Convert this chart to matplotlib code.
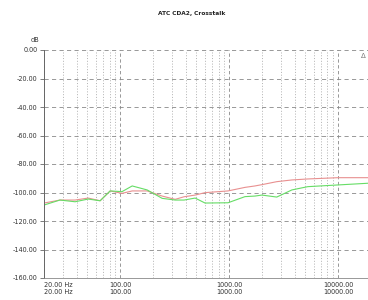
#!/usr/bin/env python3
"""Crosstalk plot of the ATC CDA2, redrawn with matplotlib."""

import matplotlib
matplotlib.use("Agg")
import matplotlib.pyplot as plt
from matplotlib.ticker import FixedLocator, NullFormatter
import numpy as np


TITLE = "ATC CDA2, Crosstalk"

# frequencies (Hz)
freq = [20, 28, 38.6, 50.9, 65.5, 81, 104, 129, 177, 243, 320, 386,
        488, 602, 978, 1400, 1730, 2000, 2740, 3770, 5280, 10000, 18900]

# crosstalk in dB, two channels
red_db = [-107.4, -105.3, -105.3, -103.9, -105.8, -98.9, -100.6, -98.9,
          -98.9, -102.5, -104.8, -103.0, -101.8, -100.1, -98.9, -96.4,
          -95.4, -94.5, -92.4, -91.2, -90.5, -89.6, -89.6]
green_db = [-108.8, -105.3, -106.5, -104.6, -105.8, -98.9, -99.4, -95.4,
            -98.2, -104.1, -105.3, -105.3, -103.9, -107.4, -107.2, -102.9,
            -102.5, -101.8, -103.2, -98.2, -95.9, -94.7, -93.5]

y_ticks = [0, -20, -40, -60, -80, -100, -120, -140, -160]
x_ticks = [20, 100, 1000, 10000]
x_labels = ["20.00 Hz\n20.00 Hz", "100.00\n100.00",
            "1000.00\n1000.00", "10000.00\n10000.00"]


def main() -> None:
    fig = plt.figure(figsize=(3.68, 3.00), dpi=100)
    ax = fig.add_axes([44 / 368, 22 / 300, (370.8 - 44) / 368, 228 / 300])

    ax.plot(freq, red_db, color="#e89090", linewidth=0.8)
    ax.plot(freq, green_db, color="#66dd66", linewidth=0.8)

    ax.set_xscale("log")
    ax.set_xlim(20, 20000)
    ax.set_ylim(-160, 0)

    minor = [m * 10 ** e for e in range(1, 5) for m in range(2, 10)]
    minor = [v for v in minor if 20 < v < 20000 and v not in x_ticks]
    ax.xaxis.set_major_locator(FixedLocator(x_ticks))
    ax.xaxis.set_minor_locator(FixedLocator(minor))
    ax.xaxis.set_minor_formatter(NullFormatter())
    ax.set_xticklabels(x_labels, fontsize=4.7, color="#333333", linespacing=1.15)
    ax.get_xticklabels()[0].set_horizontalalignment("left")
    ax.tick_params(axis="x", which="both", length=0, pad=3)

    ax.set_yticks(y_ticks)
    ax.set_yticklabels([f"{v:.2f}" for v in y_ticks], fontsize=4.7, color="#333333")
    ax.tick_params(axis="y", length=3, width=0.6, color="#666666", pad=1.5)

    ax.grid(True, axis="y", color="#888888", linestyle=(0, (5, 4)), linewidth=0.6)
    ax.grid(True, axis="x", which="major", color="#888888",
            linestyle=(0, (4, 3)), linewidth=0.6)
    ax.grid(True, axis="x", which="minor", color="#999999",
            linestyle=(0, (1.5, 2.5)), linewidth=0.5)
    ax.set_axisbelow(True)

    for side in ["top", "right"]:
        ax.spines[side].set_visible(False)
    ax.spines["left"].set_color("#666666")
    ax.spines["left"].set_linewidth(0.7)
    ax.spines["bottom"].set_color("#888888")
    ax.spines["bottom"].set_linewidth(0.6)

    fig.text(192 / 368, 1 - 13 / 300, TITLE, ha="center", va="center",
             fontsize=4.2, fontweight="bold", color="#222222")
    fig.text(35 / 368, 1 - 40 / 300, "dB", ha="center", va="center",
             fontsize=4.7, color="#333333")
    fig.text(363 / 368, 1 - 56 / 300, "\u0394", ha="center", va="center",
             fontsize=5, color="#777777")

    fig.savefig("out.png", dpi=100)
    plt.close(fig)


if __name__ == "__main__":
    main()
